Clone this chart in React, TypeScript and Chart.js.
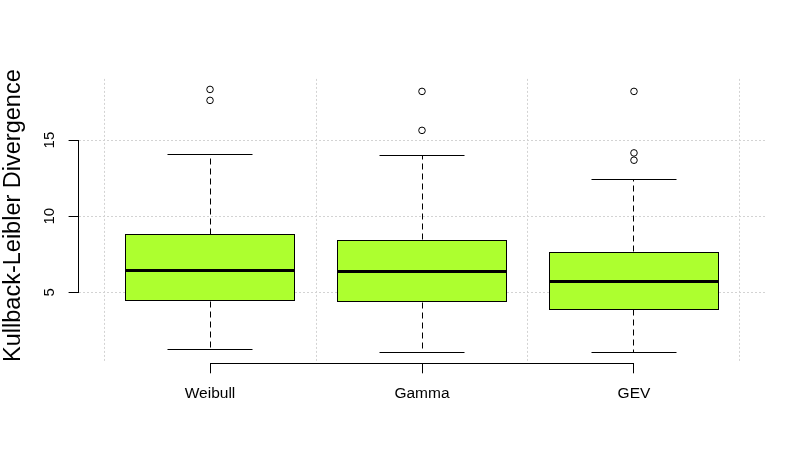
import React, { useEffect, useRef } from 'react';
import { Chart, registerables } from 'chart.js';

Chart.register(...registerables);

const categories = ['Weibull', 'Gamma', 'GEV'];
const lowerWhisker = [1.25, 1.03, 1.03];
const lowerQuartile = [4.41, 4.34, 3.86];
const medians = [6.43, 6.36, 5.7];
const upperQuartile = [8.8, 8.47, 7.68];
const upperWhisker = [14.06, 13.99, 12.41];
const outlierValues = [
  [17.61, 18.33],
  [15.64, 18.2],
  [13.68, 14.16, 18.2],
];
const yTickValues = [5, 10, 15];
const yTitle = 'Kullback-Leibler Divergence';

const FONT = '"Liberation Sans", Arial, Helvetica, sans-serif';
const BOX_HALF = 0.4;
const CAP_HALF = 0.2;
const GRID_COLOR = '#D3D3D3';

const isInt = (v: any) => typeof v === 'number' && Math.abs(v - Math.round(v)) < 1e-9;
const alignPx = (v: number) => Math.round(v - 0.5) + 0.5;

// Snap computed element positions to the pixel grid so 1px strokes stay crisp (like R's device)
const snapPlugin = {
  id: 'snapPixels',
  afterDatasetsUpdate(chart: any) {
    chart.data.datasets.forEach((ds: any, i: number) => {
      const meta = chart.getDatasetMeta(i);
      meta.data.forEach((el: any) => {
        if (ds.type === 'bar') {
          const left = Math.round(el.x - el.width / 2);
          const right = Math.round(el.x + el.width / 2);
          el.width = right - left;
          el.x = left + el.width / 2;
          el.y = Math.round(el.y);
          el.base = Math.round(el.base);
        } else if (ds.snap) {
          if (Number.isFinite(el.x)) el.x = alignPx(el.x);
          if (Number.isFinite(el.y)) el.y = alignPx(el.y);
        }
      });
    });
  },
};

const rAxesPlugin = {
  id: 'rAxes',
  afterDraw(chart: any) {
    const { ctx, chartArea, scales } = chart;
    const xs = scales.x;
    const ys = scales.y;
    ctx.save();
    ctx.strokeStyle = '#000';
    ctx.lineWidth = 1;
    ctx.setLineDash([]);
    // y axis line spanning first to last tick
    const ax = alignPx(chartArea.left);
    const yTop = alignPx(ys.getPixelForValue(yTickValues[yTickValues.length - 1]));
    const yBot = alignPx(ys.getPixelForValue(yTickValues[0]));
    ctx.beginPath();
    ctx.moveTo(ax, yTop - 0.5);
    ctx.lineTo(ax, yBot + 0.5);
    ctx.stroke();
    // x axis line spanning first to last category
    const ay = alignPx(chartArea.bottom);
    const xL = alignPx(xs.getPixelForValue(1));
    const xR = alignPx(xs.getPixelForValue(categories.length));
    ctx.beginPath();
    ctx.moveTo(xL - 0.5, ay);
    ctx.lineTo(xR + 0.5, ay);
    ctx.stroke();
    // rotated y tick labels
    ctx.fillStyle = '#000';
    ctx.font = `15px ${FONT}`;
    ctx.textAlign = 'center';
    ctx.textBaseline = 'alphabetic';
    yTickValues.forEach((v) => {
      ctx.save();
      ctx.translate(chartArea.left - 25, ys.getPixelForValue(v));
      ctx.rotate(-Math.PI / 2);
      ctx.fillText(String(v), 0, 0);
      ctx.restore();
    });
    // y axis title
    ctx.font = `23.5px ${FONT}`;
    ctx.save();
    ctx.translate(20, (chartArea.top + chartArea.bottom) / 2 - 5.5);
    ctx.rotate(-Math.PI / 2);
    ctx.fillText(yTitle, 0, 0);
    ctx.restore();
    ctx.restore();
  },
};

export default function App() {
  const ref = useRef<HTMLCanvasElement>(null);

  useEffect(() => {
    if (!ref.current) return;
    const n = categories.length;
    const positions = categories.map((_, i) => i + 1);
    const allVals = [...lowerWhisker, ...upperWhisker, ...outlierValues.flat()];
    const lo = Math.min(...allVals);
    const hi = Math.max(...allVals);
    const padY = 0.04 * (hi - lo);
    const padX = 0.04 * n;

    const boxes = positions.map((p, i) => ({ x: p, y: [lowerQuartile[i], upperQuartile[i]] }));
    const medianPts: any[] = [];
    const whiskerPts: any[] = [];
    const capPts: any[] = [];
    const outlierPts: any[] = [];
    positions.forEach((p, i) => {
      medianPts.push({ x: p - BOX_HALF, y: medians[i] }, { x: p + BOX_HALF, y: medians[i] }, { x: p + 0.5, y: null });
      whiskerPts.push(
        { x: p, y: upperQuartile[i] },
        { x: p, y: upperWhisker[i] },
        { x: p, y: null },
        { x: p, y: lowerQuartile[i] },
        { x: p, y: lowerWhisker[i] },
        { x: p, y: null }
      );
      capPts.push(
        { x: p - CAP_HALF, y: upperWhisker[i] },
        { x: p + CAP_HALF, y: upperWhisker[i] },
        { x: p, y: null },
        { x: p - CAP_HALF, y: lowerWhisker[i] },
        { x: p + CAP_HALF, y: lowerWhisker[i] },
        { x: p, y: null }
      );
      outlierValues[i].forEach((v) => outlierPts.push({ x: p, y: v }));
    });

    const chart = new Chart(ref.current, {
      type: 'bar',
      data: {
        datasets: [
          {
            type: 'line',
            label: 'Outliers',
            data: outlierPts,
            showLine: false,
            pointRadius: 3.3,
            pointBorderWidth: 1,
            pointBorderColor: '#000',
            pointBackgroundColor: 'rgba(0,0,0,0)',
            order: 0,
          },
          {
            type: 'line',
            label: 'Medians',
            data: medianPts,
            snap: true,
            borderColor: '#000',
            borderWidth: 3,
            borderCapStyle: 'butt',
            pointRadius: 0,
            spanGaps: false,
            order: 1,
          },
          {
            type: 'line',
            label: 'Caps',
            data: capPts,
            snap: true,
            borderColor: '#000',
            borderWidth: 1,
            pointRadius: 0,
            spanGaps: false,
            order: 2,
          },
          {
            type: 'line',
            label: 'Whiskers',
            data: whiskerPts,
            snap: true,
            borderColor: '#000',
            borderWidth: 1,
            borderDash: [6, 4],
            pointRadius: 0,
            spanGaps: false,
            order: 3,
          },
          {
            type: 'bar',
            label: 'Boxes',
            data: boxes,
            backgroundColor: '#ADFF2F',
            borderColor: '#000',
            borderWidth: 1,
            borderSkipped: false,
            categoryPercentage: 1,
            // ticks sit every half unit, so the sample size is half a category
            barPercentage: 2 * 2 * BOX_HALF,
            order: 4,
          },
        ] as any,
      },
      options: {
        animation: false,
        responsive: false,
        maintainAspectRatio: false,
        devicePixelRatio: 1,
        layout: { padding: { left: 0, right: 41.6, top: 78.9, bottom: 37.7 } },
        plugins: { legend: { display: false }, tooltip: { enabled: false } },
        scales: {
          x: {
            type: 'linear',
            offset: false,
            min: 0.5 - padX,
            max: n + 0.5 + padX,
            afterBuildTicks: (s: any) => {
              const t: any[] = [];
              for (let k = 0; k <= 2 * n; k++) t.push({ value: 0.5 + k * 0.5 });
              s.ticks = t;
            },
            afterFit: (s: any) => {
              s.height = 60;
            },
            grid: {
              offset: false,
              color: (c: any) => (c.tick && isInt(c.tick.value) ? 'rgba(0,0,0,0)' : GRID_COLOR),
              tickColor: (c: any) => (c.tick && isInt(c.tick.value) ? '#000' : 'rgba(0,0,0,0)'),
              tickLength: 10,
              tickWidth: 1,
              tickBorderDash: [],
              lineWidth: 1,
            },
            border: { display: false, dash: [2, 2] },
            ticks: {
              autoSkip: false,
              maxRotation: 0,
              minRotation: 0,
              padding: 11,
              color: '#000',
              font: { family: FONT, size: 15.5 },
              callback: (v: any) => (isInt(v) ? categories[Math.round(v) - 1] : ''),
            },
          },
          y: {
            type: 'linear',
            min: lo - padY,
            max: hi + padY,
            afterBuildTicks: (s: any) => {
              s.ticks = yTickValues.map((v) => ({ value: v }));
            },
            afterFit: (s: any) => {
              s.width = 78.6;
            },
            grid: {
              color: GRID_COLOR,
              tickColor: '#000',
              tickLength: 10,
              tickWidth: 1,
              tickBorderDash: [],
              lineWidth: 1,
            },
            border: { display: false, dash: [2, 2] },
            ticks: { display: false },
          },
        },
      } as any,
      plugins: [snapPlugin, rAxesPlugin],
    });
    return () => chart.destroy();
  }, []);

  return (
    <div style={{ position: 'fixed', left: 0, top: 0, width: 807, height: 461, background: '#fff' }}>
      <canvas ref={ref} width={807} height={461} style={{ display: 'block', width: 807, height: 461 }} />
    </div>
  );
}
